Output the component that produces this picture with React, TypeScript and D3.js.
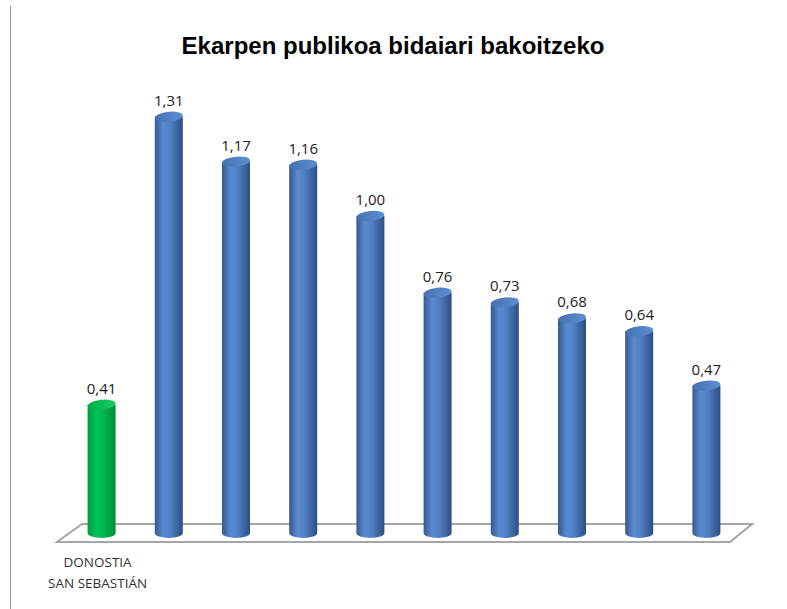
import React from 'react';
import * as d3 from 'd3';

const categories = ['DONOSTIA\nSAN SEBASTIÁN', '', '', '', '', '', '', '', '', ''];
const values = [0.41, 1.31, 1.17, 1.16, 1.0, 0.76, 0.73, 0.68, 0.64, 0.47];
const highlight = [true, false, false, false, false, false, false, false, false, false];

const W = 787;
const H = 609;

const App: React.FC = () => {
  const x = d3.scaleBand<number>()
    .domain(values.map((_, i) => i))
    .range([68, 740])
    .padding(0);

  const y = d3.scaleLinear()
    .domain([0, 1.4])
    .range([536, 88]);

  const barW = 28;
  const rx = barW / 2;
  const ry = 5;
  const fmt = (v: number) => d3.format('.2f')(v).replace('.', ',');

  return (
    <svg width={W} height={H} style={{ position: 'absolute', left: 0, top: 0, background: '#fff' }}
      fontFamily="'Open Sans', 'Noto Sans', sans-serif">
      <defs>
        <linearGradient id="blueBody" x1="0" x2="1" y1="0" y2="0">
          <stop offset="0" stopColor="#33598f" />
          <stop offset="0.3" stopColor="#5a8bd0" />
          <stop offset="0.55" stopColor="#5080c4" />
          <stop offset="1" stopColor="#2c4f82" />
        </linearGradient>
        <linearGradient id="greenBody" x1="0" x2="1" y1="0" y2="0">
          <stop offset="0" stopColor="#009a3e" />
          <stop offset="0.3" stopColor="#00c455" />
          <stop offset="0.55" stopColor="#00b84e" />
          <stop offset="1" stopColor="#008c36" />
        </linearGradient>
        <linearGradient id="blueTop" x1="0" x2="1" y1="0" y2="0">
          <stop offset="0" stopColor="#4572b0" />
          <stop offset="1" stopColor="#5d8fd3" />
        </linearGradient>
        <linearGradient id="greenTop" x1="0" x2="1" y1="0" y2="0">
          <stop offset="0" stopColor="#00ad47" />
          <stop offset="1" stopColor="#1ccc62" />
        </linearGradient>
      </defs>

      {/* frame line */}
      <line x1={10.5} x2={10.5} y1={6} y2={H} stroke="#999" strokeWidth={1} />

      <text x={393} y={54} textAnchor="middle" fontFamily="'Liberation Sans', Arial, sans-serif"
        fontWeight="bold" fontSize={24} fill="#000">
        Ekarpen publikoa bidaiari bakoitzeko
      </text>

      {/* floor */}
      <polygon points="82,524 752,524 730,542 57,542" fill="#fff" stroke="#a6a6a6" strokeWidth={2} />

      {values.map((v, i) => {
        const cx = x(i)! + x.bandwidth() / 2;
        const top = y(v);
        const bottom = y(0) - 3;
        const body = highlight[i] ? 'url(#greenBody)' : 'url(#blueBody)';
        const cap = highlight[i] ? 'url(#greenTop)' : 'url(#blueTop)';
        const d = `M${cx - rx},${top} L${cx - rx},${bottom} A${rx},${ry} 0 0 0 ${cx + rx},${bottom} L${cx + rx},${top} Z`;
        return (
          <g key={i}>
            <path d={d} fill={body} />
            <ellipse cx={cx} cy={top} rx={rx} ry={ry} fill={cap}
              transform={`rotate(-6 ${cx} ${top})`} />
            <text x={cx} y={top - 11} textAnchor="middle" fontSize={15} fill="#222">
              {fmt(v)}
            </text>
          </g>
        );
      })}

      {categories.map((c, i) => {
        if (!c) return null;
        const cx = x(i)! + x.bandwidth() / 2 - 4;
        return (
          <text key={i} x={cx} y={567} textAnchor="middle" fontSize={13.5} fill="#333">
            {c.split('\n').map((line, j) => (
              <tspan key={j} x={cx} dy={j === 0 ? 0 : 21}>{line}</tspan>
            ))}
          </text>
        );
      })}
    </svg>
  );
};

export default App;
